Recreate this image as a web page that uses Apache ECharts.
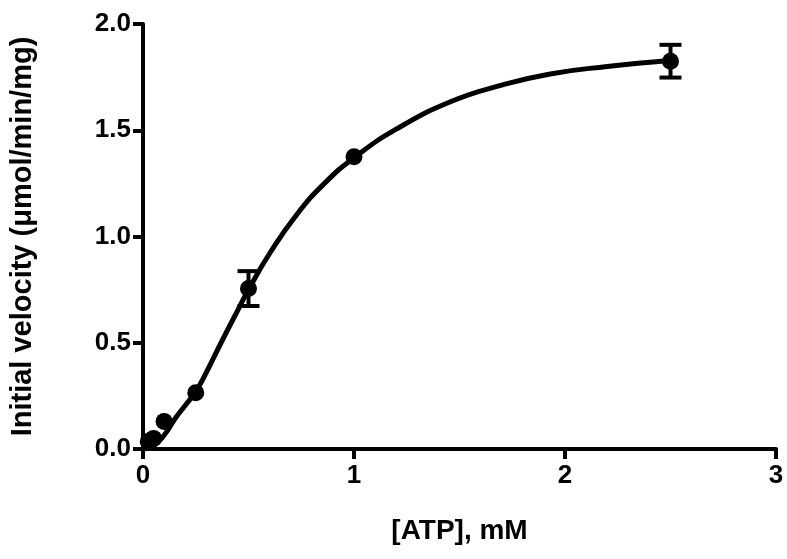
<!DOCTYPE html>
<html>
<head>
<meta charset="utf-8">
<script src="https://cdn.jsdelivr.net/npm/echarts@6/dist/echarts.min.js"></script>
<style>
  html, body { margin: 0; padding: 0; background: #fff; }
  #chart { width: 787px; height: 559px; }
</style>
</head>
<body>
<div id="chart"></div>
<script>
// measured points (mean +/- error)
var atpConc  = [0.025, 0.05, 0.1, 0.25, 0.5, 1.0, 2.5];
var velocity = [0.035, 0.05, 0.13, 0.265, 0.755, 1.375, 1.825];
var velErr   = [0, 0, 0, 0, 0.082, 0, 0.077];

// fitted curve
var fitX = [0, 0.05, 0.1, 0.15, 0.2, 0.25, 0.3, 0.37, 0.45, 0.5, 0.6, 0.73, 0.86, 1.0, 1.2, 1.46, 1.7, 1.93, 2.2, 2.5];
var fitY = [0, 0.015, 0.065, 0.14, 0.205, 0.27, 0.36, 0.5, 0.655, 0.75, 0.92, 1.105, 1.25, 1.37, 1.505, 1.635, 1.712, 1.765, 1.8, 1.828];

var xTicks = [0, 1, 2, 3];
var yTicks = [0, 0.5, 1.0, 1.5, 2.0];

var font = 'Liberation Sans, Arial, sans-serif';

var pts = atpConc.map(function (x, i) { return [x, velocity[i]]; });
var fit = fitX.map(function (x, i) { return [x, fitY[i]]; });
var bars = atpConc.map(function (x, i) { return [x, velocity[i] - velErr[i], velocity[i] + velErr[i]]; })
                  .filter(function (d, i) { return velErr[i] > 0; });

var chart = echarts.init(document.getElementById('chart'));

var axisCommon = {
  axisLine: { show: true, lineStyle: { color: '#000', width: 4 } },
  axisTick: { show: true, length: 10, lineStyle: { color: '#000', width: 4 } },
  splitLine: { show: false },
  nameLocation: 'middle',
  nameTextStyle: { color: '#000', fontFamily: font, fontWeight: 'bold', fontSize: 28 }
};

chart.setOption({
  backgroundColor: '#fff',
  animation: false,
  grid: { left: 140, right: 11, top: 24, bottom: 110, containLabel: false },
  xAxis: Object.assign({}, axisCommon, {
    type: 'value',
    min: xTicks[0], max: xTicks[xTicks.length - 1], interval: 1,
    name: '[ATP], mM',
    nameGap: 68,
    axisLabel: { color: '#000', fontFamily: font, fontWeight: 'bold', fontSize: 26, margin: 14 }
  }),
  yAxis: Object.assign({}, axisCommon, {
    type: 'value',
    min: yTicks[0], max: yTicks[yTicks.length - 1], interval: 0.5,
    name: 'Initial velocity (μmol/min/mg)',
    nameGap: 106,
    nameTextStyle: { color: '#000', fontFamily: font, fontWeight: 'bold', fontSize: 29 },
    axisLabel: {
      color: '#000', fontFamily: font, fontWeight: 'bold', fontSize: 26, margin: 12,
      formatter: function (v) { return v.toFixed(1); }
    }
  }),
  series: [
    {
      type: 'line',
      data: fit,
      smooth: true,
      showSymbol: false,
      lineStyle: { color: '#000', width: 5 },
      z: 2
    },
    {
      type: 'custom',
      data: bars,
      renderItem: function (params, api) {
        var x = api.value(0);
        var lo = api.coord([x, api.value(1)]);
        var hi = api.coord([x, api.value(2)]);
        var cap = 11;
        var st = { stroke: '#000', lineWidth: 4 };
        return {
          type: 'group',
          children: [
            { type: 'line', shape: { x1: lo[0], y1: lo[1], x2: hi[0], y2: hi[1] }, style: st },
            { type: 'line', shape: { x1: lo[0] - cap, y1: lo[1], x2: lo[0] + cap, y2: lo[1] }, style: st },
            { type: 'line', shape: { x1: hi[0] - cap, y1: hi[1], x2: hi[0] + cap, y2: hi[1] }, style: st }
          ]
        };
      },
      z: 3
    },
    {
      type: 'scatter',
      data: pts,
      symbol: 'circle',
      symbolSize: 17,
      itemStyle: { color: '#000', opacity: 1 },
      z: 4
    }
  ]
});
</script>
</body>
</html>
